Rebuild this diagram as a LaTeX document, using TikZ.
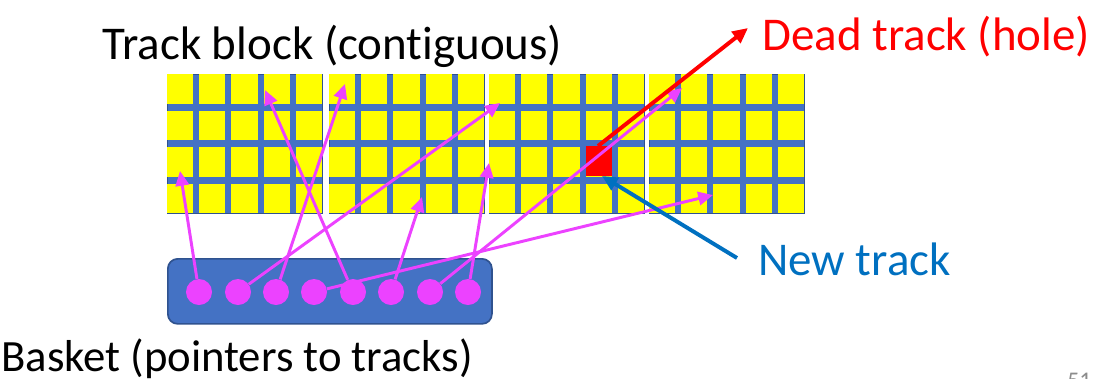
\documentclass[tikz,border=0pt]{standalone}
\usepackage{fontspec}
\setmainfont{Carlito}[Ligatures=NoCommon]
\usetikzlibrary{arrows.meta}
\definecolor{gridblue}{RGB}{68,114,196}
\definecolor{edgeblue}{RGB}{47,82,143}
\definecolor{cellyellow}{RGB}{255,255,0}
\definecolor{ptrpink}{RGB}{236,66,255}
\definecolor{newblue}{RGB}{0,112,192}
\definecolor{deadred}{RGB}{255,0,0}
\tikzset{
  blockbg/.style={fill=gridblue, draw=edgeblue, line width=0.6pt},
  holebox/.style={fill=deadred, draw=none, inner sep=0pt, minimum width=26.2*0.7113pt, minimum height=29.5*0.7113pt},
  basketbox/.style={fill=gridblue, draw=edgeblue, line width=1.2pt, rounded corners=7pt, inner sep=0pt, minimum width=324*0.7113pt, minimum height=65*0.7113pt},
  ptr/.style={circle, fill=ptrpink, draw=none, inner sep=0pt, minimum size=26*0.7113pt},
  ptrarrow/.style={draw=ptrpink, line width=2.1pt, -{Triangle[length=10.5pt,width=9.5pt]}},
  deadarrow/.style={draw=deadred, line width=2.8pt, -{Triangle[length=11pt,width=10pt]}},
  newarrow/.style={draw=newblue, line width=2.8pt, -{Triangle[length=11pt,width=10pt]}},
  lbl/.style={anchor=base west, inner sep=0pt, font=\fontsize{33.4}{40}\selectfont},
}
\begin{document}
\begin{tikzpicture}[x=0.025cm, y=-0.025cm]
\clip (0,0) rectangle (1120,378);
% track blocks
\foreach \bx in {167,329,489,649}{
  \filldraw[blockbg] (\bx,74) rectangle ++(155,139);
  \foreach \i in {0,...,4}{
    \foreach \j in {0,...,3}{
      \fill[cellyellow] (\bx+\i*32.2,74+\j*36.5) rectangle ++(26.2,29.5);
    }
  }
}
% dead track (hole)
\node[holebox, anchor=north west] (hole) at (585.6,146) {};
% basket
\node[basketbox, anchor=north west] (basket) at (167,258) {};
\foreach \k/\cx in {1/199,2/238,3/276,4/314,5/353,6/391,7/430,8/468}{
  \node[ptr] (c\k) at (\cx,292) {};
}
% targets
\coordinate (t1) at (180,171);
\coordinate (t2) at (500,103);
\coordinate (t3) at (345,84);
\coordinate (t4) at (713,195);
\coordinate (t5) at (265,90);
\coordinate (t6) at (422,197);
\coordinate (t7) at (682,88);
\coordinate (t8) at (489,163);
\foreach \k in {1,...,8}{
  \draw[ptrarrow] (c\k) -- (t\k);
}
% labels
\node[lbl] (blocklbl) at (102,59) {Track block (contiguous)};
\node[lbl, text=deadred] (deadlbl) at (762,50) {Dead track (hole)};
\node[lbl, text=newblue] (newlbl) at (758,275) {New track};
\node[lbl, font=\fontsize{31.8}{38}\selectfont] (basketlbl) at (1,371) {Basket (pointers to tracks)};
\node[anchor=base west, inner sep=0pt, text=black!45, font=\fontsize{17}{20}\selectfont] (pagenum) at (1067,388) {51};
% red and blue arrows
\coordinate (deadtail) at (598,146);
\coordinate (deadtip) at (748,28);
\coordinate (newtail) at (737,258);
\coordinate (newtip) at (602,176);
\draw[deadarrow] (deadtail) -- (deadtip);
\draw[newarrow] (newtail) -- (newtip);
\end{tikzpicture}
\end{document}
